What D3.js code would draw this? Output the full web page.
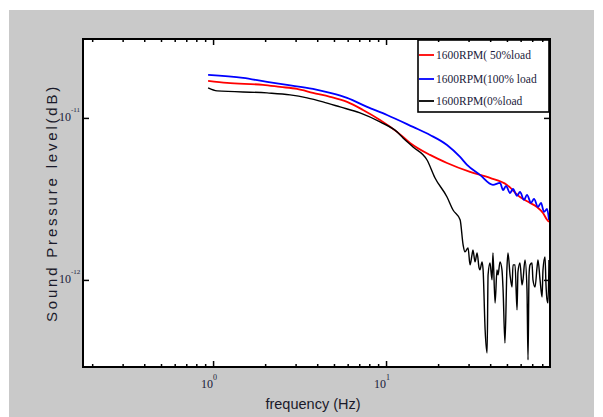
<!DOCTYPE html>
<html>
<head>
<meta charset="utf-8">
<script src="https://cdn.jsdelivr.net/npm/d3@7"></script>
<style>
  html, body { margin: 0; padding: 0; background: #fff; }
</style>
</head>
<body>
<div id="main"></div>
<script>
const cte = {
    w: 603,
    h: 417,
    left: 83,
    right: 550,
    top: 39,
    bottom: 367,
    bg: "#c9c9c9"
};

// axis ranges (Hz, sound pressure)
const xDomain = [0.177, 88.7];
const yDomain = [2.9e-13, 3.07e-11];

const xMajorTicks = [1, 10];
const xMajorLabels = ["0", "1"];
const xMinorTicks = [0.2, 0.3, 0.4, 0.5, 0.6, 0.7, 0.8, 0.9, 2, 3, 4, 5, 6, 7, 8, 9, 20, 30, 40, 50, 60, 70, 80];
const yMajorTicks = [1e-11, 1e-12];
const yMajorLabels = ["-11", "-12"];

const seriesNames = ["1600RPM( 50%load", "1600RPM(100% load", "1600RPM(0%load"];
const seriesColors = ["#ff0000", "#0000ff", "#000000"];

// 50% load
const redFreq = [0.936, 1.205, 1.945, 2.44, 3.06, 3.78, 4.75, 5.95, 7.36, 9.23, 11.58, 13.76, 17.96, 22.52, 30.6, 39.9, 50.0, 59.5, 68.0, 74.6, 80.8, 85.3, 87.5];
const redSpl = [1.692e-11, 1.644e-11, 1.599e-11, 1.554e-11, 1.510e-11, 1.427e-11, 1.348e-11, 1.255e-11, 1.120e-11, 0.972e-11, 0.820e-11, 0.701e-11, 0.591e-11, 0.527e-11, 0.464e-11, 0.426e-11, 0.386e-11, 0.325e-11, 0.299e-11, 0.282e-11, 0.259e-11, 0.235e-11, 0.228e-11];

// 100% load
const blueFreq = [0.936, 1.491, 2.052, 2.678, 3.78, 4.75, 5.95, 7.77, 10.13, 14.32, 17.96, 22.52, 26.8, 29.4, 34.9, 41.5, 45.6, 47.5, 49.4, 52.1, 54.2, 57.2, 59.5, 62.8, 65.3, 68.9, 71.7, 75.6, 78.7, 81.9, 85.3, 87.5];
const blueSpl = [1.843e-11, 1.766e-11, 1.668e-11, 1.599e-11, 1.510e-11, 1.427e-11, 1.329e-11, 1.169e-11, 1.043e-11, 0.880e-11, 0.785e-11, 0.681e-11, 0.574e-11, 0.513e-11, 0.445e-11, 0.386e-11, 0.397e-11, 0.359e-11, 0.380e-11, 0.344e-11, 0.364e-11, 0.330e-11, 0.349e-11, 0.312e-11, 0.335e-11, 0.299e-11, 0.316e-11, 0.282e-11, 0.299e-11, 0.263e-11, 0.274e-11, 0.235e-11];

// 0% load
const blackFreq = [0.936, 1.055, 2.052, 2.786, 3.494, 4.32, 5.42, 7.07, 9.23, 11.58, 12.54, 14.32, 17.26, 19.2, 22.52, 24.4, 26.8,
    27.9, 28.6, 29.8, 30.6, 31.4, 31.8, 32.7, 33.6, 34.5, 34.9, 35.9, 36.4, 37.4, 38.4, 38.9, 39.9, 41.0, 41.5, 42.7, 43.8,
    44.4, 45.6, 46.8, 47.5, 48.7, 50.0, 50.7, 52.1, 53.5, 54.2, 55.7, 57.2, 57.9, 59.5, 61.1, 61.9, 63.6, 65.3, 66.2, 67.1,
    68.0, 69.8, 70.7, 72.7, 74.6, 75.6, 77.7, 79.8, 80.8, 83.0, 84.1, 85.3, 86.4, 87.5];
const blackSpl = [1.532e-11, 1.468e-11, 1.427e-11, 1.387e-11, 1.329e-11, 1.255e-11, 1.169e-11, 1.074e-11, 0.945e-11, 0.820e-11, 0.752e-11, 0.662e-11, 0.550e-11, 0.426e-11, 0.325e-11, 0.270e-11, 0.235e-11,
    0.1644e-11, 0.1489e-11, 0.1576e-11, 0.1238e-11, 0.1427e-11, 0.1531e-11, 0.1292e-11, 0.1468e-11, 0.1186e-11, 0.1153e-11, 0.1292e-11, 0.1153e-11, 0.0491e-11, 0.0354e-11, 0.1074e-11, 0.1273e-11, 0.100e-11, 0.1468e-11, 0.0721e-11, 0.1153e-11,
    0.1074e-11, 0.1292e-11, 0.1153e-11, 0.0868e-11, 0.0408e-11, 0.1186e-11, 0.1468e-11, 0.1074e-11, 0.0905e-11, 0.1238e-11, 0.1238e-11, 0.0653e-11, 0.1120e-11, 0.1273e-11, 0.0931e-11, 0.100e-11, 0.1329e-11, 0.0868e-11, 0.0321e-11, 0.1074e-11,
    0.1238e-11, 0.1273e-11, 0.100e-11, 0.0905e-11, 0.1186e-11, 0.1329e-11, 0.100e-11, 0.0785e-11, 0.1153e-11, 0.1387e-11, 0.0931e-11, 0.0752e-11, 0.0721e-11, 0.1329e-11];

const series = [
    { freq: redFreq, spl: redSpl, width: 1.8 },
    { freq: blueFreq, spl: blueSpl, width: 1.8 },
    { freq: blackFreq, spl: blackSpl, width: 1.4 }
];

const svg = d3.select("#main").append("svg")
    .attr("width", cte.w)
    .attr("height", cte.h)
    .style("display", "block");

// gray figure background
svg.append("rect")
    .attr("x", 9).attr("y", 10)
    .attr("width", 585).attr("height", cte.h - 10)
    .attr("fill", cte.bg);

svg.append("rect")
    .attr("x", cte.left).attr("y", cte.top)
    .attr("width", cte.right - cte.left).attr("height", cte.bottom - cte.top)
    .attr("fill", "#fff");

const xScale = d3.scaleLog().domain(xDomain).range([cte.left, cte.right]);
const yScale = d3.scaleLog().domain(yDomain).range([cte.bottom, cte.top]);

svg.append("defs").append("clipPath").attr("id", "clip")
    .append("rect")
    .attr("x", cte.left).attr("y", cte.top)
    .attr("width", cte.right - cte.left).attr("height", cte.bottom - cte.top);

const lineGenerator = d3.line()
    .curve(d3.curveMonotoneX)
    .x(d => xScale(d[0]))
    .y(d => yScale(d[1]));

series.forEach((s, i) => {
    svg.append("path")
        .datum(s.freq.map((f, j) => [f, s.spl[j]]))
        .attr("clip-path", "url(#clip)")
        .attr("d", lineGenerator)
        .attr("fill", "none")
        .attr("stroke", seriesColors[i])
        .attr("stroke-width", s.width)
        .attr("stroke-linejoin", "miter");
});

// ticks, pointing inward on all four sides
function tickAxis(axis, transform, size) {
    const g = svg.append("g")
        .attr("transform", transform)
        .call(axis.tickSize(size).tickFormat(""));
    g.select(".domain").remove();
    g.selectAll("line").attr("stroke", "#000").attr("stroke-width", 1.5);
}
tickAxis(d3.axisBottom(xScale).tickValues(xMinorTicks), `translate(0,${cte.bottom})`, -3);
tickAxis(d3.axisBottom(xScale).tickValues(xMajorTicks), `translate(0,${cte.bottom})`, -6);
tickAxis(d3.axisTop(xScale).tickValues(xMinorTicks), `translate(0,${cte.top})`, -3);
tickAxis(d3.axisTop(xScale).tickValues(xMajorTicks), `translate(0,${cte.top})`, -6);
tickAxis(d3.axisLeft(yScale).tickValues(yMajorTicks), `translate(${cte.left},0)`, -6);
tickAxis(d3.axisRight(yScale).tickValues(yMajorTicks), `translate(${cte.right},0)`, -6);

// frame
svg.append("rect")
    .attr("x", cte.left).attr("y", cte.top)
    .attr("width", cte.right - cte.left).attr("height", cte.bottom - cte.top)
    .attr("fill", "none")
    .attr("stroke", "#000")
    .attr("stroke-width", 2);

// tick labels
const xLab = svg.selectAll(".xlab")
    .data(xMajorTicks)
    .enter().append("text")
    .attr("class", "xlab")
    .attr("x", d => xScale(d) - 4)
    .attr("y", 388)
    .attr("text-anchor", "middle")
    .style("font-family", "Liberation Serif")
    .style("font-size", "12px")
    .style("fill", "#1a1a3a");
xLab.append("tspan").text("10");
xLab.append("tspan")
    .attr("dy", -8)
    .style("font-size", "8px")
    .text((d, i) => xMajorLabels[i]);

const yLab = svg.selectAll(".ylab")
    .data(yMajorTicks)
    .enter().append("text")
    .attr("class", "ylab")
    .attr("x", 59)
    .attr("y", d => yScale(d) + 3)
    .style("font-family", "Liberation Serif")
    .style("font-size", "12px")
    .style("fill", "#1a1a3a");
yLab.append("tspan").text("10");
yLab.append("tspan")
    .attr("dy", -9)
    .style("font-size", "7px")
    .text((d, i) => yMajorLabels[i]);

// axis titles
svg.append("text")
    .attr("transform", `translate(57,${(cte.top + cte.bottom) / 2}) rotate(-90)`)
    .attr("text-anchor", "middle")
    .style("font-family", "Liberation Sans")
    .style("font-size", "15px")
    .style("letter-spacing", "2.8px")
    .style("fill", "#1a1a2a")
    .text("Sound Pressure level(dB)");

svg.append("text")
    .attr("x", 313)
    .attr("y", 409)
    .attr("text-anchor", "middle")
    .style("font-family", "Liberation Sans")
    .style("font-size", "14.5px")
    .style("fill", "#1a1a2a")
    .text("frequency (Hz)");

// legend
const legend = svg.append("g");
legend.append("rect")
    .attr("x", 418).attr("y", 40)
    .attr("width", 131).attr("height", 72)
    .attr("fill", "#fff")
    .attr("stroke", "#000")
    .attr("stroke-width", 1.6);

const legendY = [55, 79, 101];
seriesNames.forEach((name, i) => {
    legend.append("line")
        .attr("x1", 419).attr("x2", 434)
        .attr("y1", legendY[i]).attr("y2", legendY[i])
        .attr("stroke", seriesColors[i])
        .attr("stroke-width", 1.8);
    legend.append("text")
        .attr("x", 436)
        .attr("y", legendY[i] + 4)
        .style("font-family", "Liberation Serif")
        .style("font-size", "11.5px")
        .style("fill", "#1a1a3a")
        .text(name);
});
// top ticks show over the legend box
tickAxis(d3.axisTop(xScale).tickValues(xMinorTicks.filter(d => xScale(d) > 418)), `translate(0,${cte.top})`, -3);
</script>
</body>
</html>
